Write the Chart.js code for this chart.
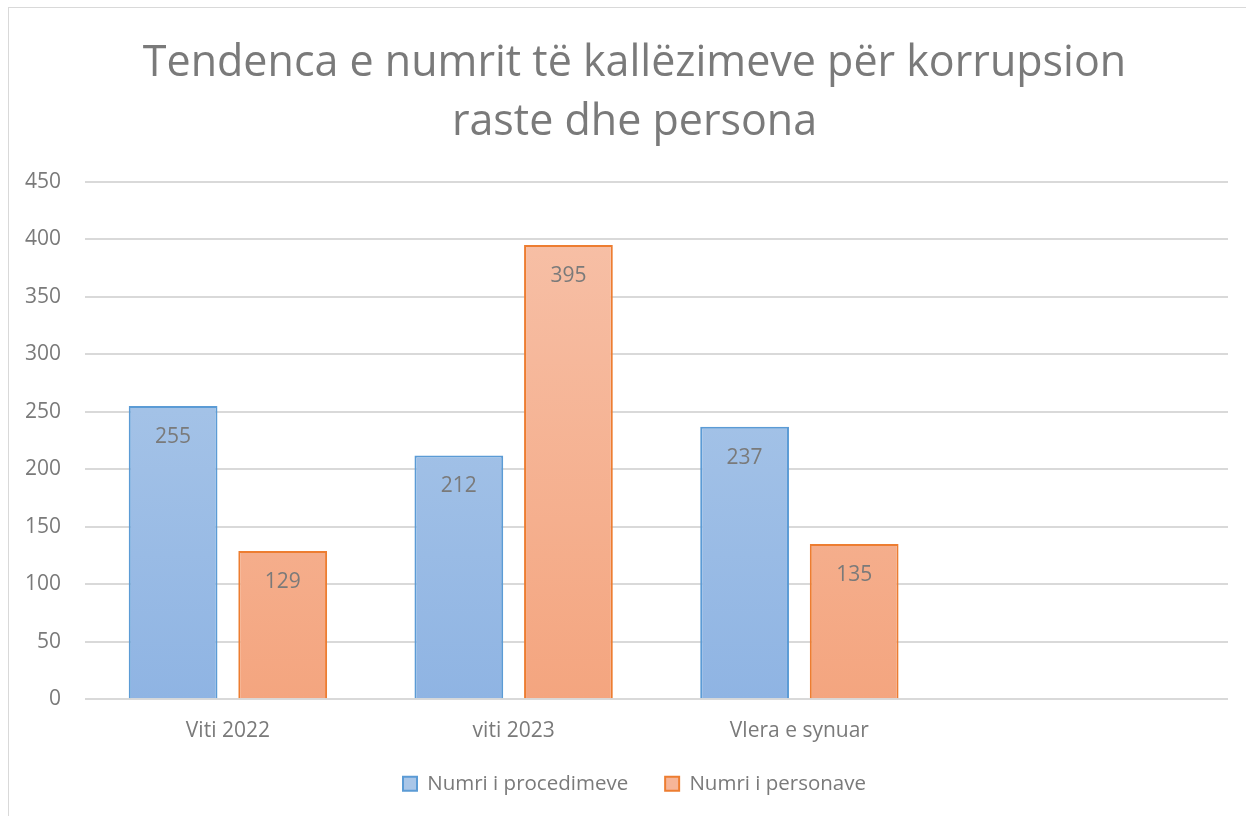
<!DOCTYPE html>
<html>
<head>
<meta charset="utf-8">
<script src="https://cdn.jsdelivr.net/npm/chart.js@4"></script>
<style>
  html, body { margin: 0; padding: 0; background: #fff; overflow: hidden; }
  #wrap { position: absolute; left: 0; top: 0; width: 1246px; height: 816px; }
  #frame { position: absolute; left: 8px; top: 7px; width: 1400px; height: 1000px; border: 1px solid #d9d9d9; }
</style>
</head>
<body>
<div id="frame"></div>
<div id="wrap"><canvas id="chart" width="1246" height="816"></canvas></div>
<script>
// data
const categories = ['Viti 2022', 'viti 2023', 'Vlera e synuar', ''];
const procedimeve = [255, 212, 237, null];
const personave = [129, 395, 135, null];
const yTicks = [0, 50, 100, 150, 200, 250, 300, 350, 400, 450];

const FONT = '"Open Sans", sans-serif';
const GREY = '#7a7a7a';
const LEGEND_TRIM = 26;

function gradient(ctx, top, bottom) {
    const area = ctx.chart.chartArea;
    if (!area) return top;
    const g = ctx.chart.ctx.createLinearGradient(0, area.top, 0, area.bottom);
    g.addColorStop(0, top);
    g.addColorStop(1, bottom);
    return g;
}

// value labels just inside the top of each bar
const barLabels = {
    id: 'barLabels',
    afterDatasetsDraw(chart) {
        const c = chart.ctx;
        c.save();
        c.font = '21px ' + FONT;
        c.fillStyle = GREY;
        c.textAlign = 'center';
        c.textBaseline = 'middle';
        chart.data.datasets.forEach((ds, i) => {
            chart.getDatasetMeta(i).data.forEach((bar, j) => {
                if (ds.data[j] == null) return;
                c.fillText(ds.data[j], bar.x, bar.y + 31);
            });
        });
        c.restore();
    }
};

// title and legend sit a little right of centre in the original,
// and the legend hugs the axis labels more tightly than chart.js spaces it
const tweakBoxes = {
    id: 'tweakBoxes',
    beforeLayout(chart) {
        const lg = chart.legend;
        if (lg && !lg._trimmed) {
            const fit = lg.fit;
            lg.fit = function () { fit.call(this); this.height -= LEGEND_TRIM; };
            lg._trimmed = true;
        }
    },
    afterLayout(chart) {
        if (chart.titleBlock) chart.titleBlock.left += 40;
        if (chart.legend) {
            chart.legend.left += 40;
            chart.legend.top -= LEGEND_TRIM;
        }
    }
};

new Chart(document.getElementById('chart'), {
    type: 'bar',
    plugins: [barLabels, tweakBoxes],
    data: {
        labels: categories,
        datasets: [{
            label: 'Numri i procedimeve',
            data: procedimeve,
            backgroundColor: ctx => gradient(ctx, '#b3cdea', '#8fb4e3'),
            borderColor: '#5b9bd5',
            borderWidth: 2,
            borderSkipped: 'bottom',
        }, {
            label: 'Numri i personave',
            data: personave,
            backgroundColor: ctx => gradient(ctx, '#f7c2aa', '#f4a57f'),
            borderColor: '#ed7d31',
            borderWidth: 2,
            borderSkipped: 'bottom',
        }],
    },
    options: {
        responsive: false,
        animation: false,
        events: [],
        categoryPercentage: 0.767,
        barPercentage: 0.81,
        layout: { padding: { left: 1, right: 18, top: 20, bottom: 12 } },
        plugins: {
            title: {
                display: true,
                text: ['Tendenca e numrit të kallëzimeve për korrupsion', 'raste dhe persona'],
                color: GREY,
                font: { family: FONT, size: 43, weight: 'normal', lineHeight: 1.37 },
                padding: { top: 14, bottom: 30 },
            },
            legend: {
                position: 'bottom',
                labels: {
                    color: GREY,
                    font: { family: FONT, size: 20.5 },
                    boxWidth: 14,
                    boxHeight: 14,
                    padding: 37,
                    generateLabels: chart => chart.data.datasets.map((ds, i) => ({
                        text: ds.label,
                        fontColor: GREY,
                        fillStyle: i === 0 ? '#a9c6e8' : '#f6b598',
                        strokeStyle: ds.borderColor,
                        lineWidth: 2,
                        datasetIndex: i,
                    })),
                },
            },
            tooltip: { enabled: false },
        },
        scales: {
            x: {
                grid: { display: false, drawTicks: false },
                border: { display: false },
                ticks: { color: GREY, font: { family: FONT, size: 21 }, padding: 19 },
            },
            y: {
                min: 0,
                max: 450,
                afterBuildTicks: axis => { axis.ticks = yTicks.map(v => ({ value: v })); },
                grid: { color: '#d9d9d9', lineWidth: 2, drawTicks: false },
                border: { display: false },
                ticks: { color: GREY, font: { family: FONT, size: 21 }, padding: 24 },
            },
        },
    },
});
</script>
</body>
</html>
